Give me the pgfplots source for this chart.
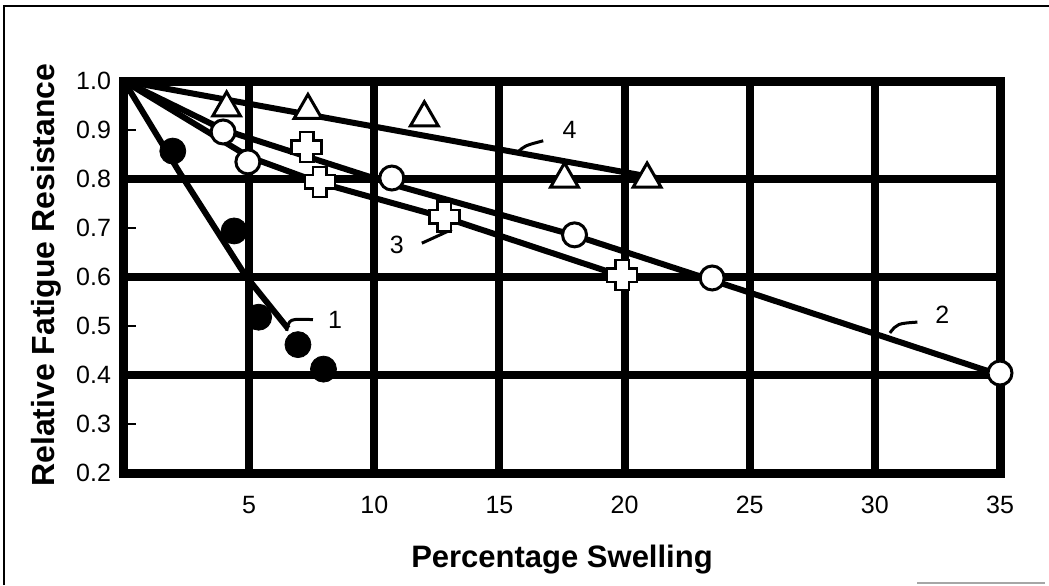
\documentclass[border=0pt]{standalone}
\usepackage{fontspec}
\setmainfont{Liberation Sans}
\usepackage{pgfplots}
\pgfplotsset{compat=1.18}

% white plus sign with a black outline
\pgfdeclareplotmark{fatplus}{%
  \pgfpathmoveto{\pgfqpoint{-3.4pt}{7.5pt}}
  \pgfpathlineto{\pgfqpoint{3.4pt}{7.5pt}}
  \pgfpathlineto{\pgfqpoint{3.4pt}{3.4pt}}
  \pgfpathlineto{\pgfqpoint{7.5pt}{3.4pt}}
  \pgfpathlineto{\pgfqpoint{7.5pt}{-3.4pt}}
  \pgfpathlineto{\pgfqpoint{3.4pt}{-3.4pt}}
  \pgfpathlineto{\pgfqpoint{3.4pt}{-7.5pt}}
  \pgfpathlineto{\pgfqpoint{-3.4pt}{-7.5pt}}
  \pgfpathlineto{\pgfqpoint{-3.4pt}{-3.4pt}}
  \pgfpathlineto{\pgfqpoint{-7.5pt}{-3.4pt}}
  \pgfpathlineto{\pgfqpoint{-7.5pt}{3.4pt}}
  \pgfpathlineto{\pgfqpoint{-3.4pt}{3.4pt}}
  \pgfpathclose
  \pgfusepathqfillstroke}

\begin{document}
\begin{tikzpicture}
\useasboundingbox (-62pt,-56pt) rectangle (462.5pt,236.5pt);
\begin{axis}[
    scale only axis,
    width=438pt, height=196pt,
    xmin=0, xmax=35, ymin=0.2, ymax=1.0,
    axis line style={line width=4.5pt},
    xtick={5,10,...,35}, xticklabels={5,10,15,20,25,30,35},
    ytick={0.2,0.4,0.6,0.8,1.0}, yticklabels={0.2,0.4,0.6,0.8,1.0},
    extra y ticks={0.3,0.5,0.7,0.9},
    extra y tick labels={0.3,0.5,0.7,0.9},
    extra y tick style={grid=none, major tick length=6pt, tick align=inside,
        tick style={line width=1.2pt, black}},
    major tick length=0pt,
    xtick pos=bottom, ytick pos=left,
    grid=major,
    major grid style={black, line width=4pt},
    tick label style={font=\fontsize{12.5}{14}\selectfont},
    xticklabel style={yshift=-8pt},
    yticklabel style={xshift=-3pt},
    xlabel={Percentage Swelling},
    ylabel={Relative Fatigue Resistance},
    label style={font=\bfseries\fontsize{15.5}{18}\selectfont},
    xlabel style={at={(axis description cs:0.5,0)}, anchor=base, yshift=-47pt},
    ylabel style={at={(axis description cs:-0.0788,0.505)}, anchor=base,
        font=\bfseries\fontsize{16}{18}\selectfont},
    clip=false,
]
% curves
\addplot[line width=3pt, black] coordinates {(0,1.0)(2.2,0.815)(4.85,0.603)(6.55,0.495)};
\addplot[line width=3pt, black] coordinates {(0,1.0)(4,0.9)(11,0.785)(18,0.685)(24,0.585)(35,0.40)};
\addplot[line width=3pt, black] coordinates {(0,1.0)(5,0.845)(7.84,0.792)(12.9,0.72)(20,0.60)};
\addplot[line width=3pt, black] coordinates {(0,1.0)(21.5,0.80)};

% leaders and curve numbers
\draw[line width=1.5pt] (axis cs:6.5,0.49) .. controls (axis cs:6.6,0.515) .. (axis cs:7.55,0.513);
\draw[line width=1.5pt] (axis cs:30.6,0.486) .. controls (axis cs:30.9,0.505) .. (axis cs:31.7,0.508);
\draw[line width=1.5pt] (axis cs:11.9,0.669) -- (axis cs:13.1,0.697);
\draw[line width=1.5pt] (axis cs:15.7,0.853) .. controls (axis cs:16.0,0.868) .. (axis cs:16.75,0.878);
\node[font=\fontsize{12.5}{14}\selectfont] at (axis cs:8.43,0.512) {1};
\node[font=\fontsize{12.5}{14}\selectfont] at (axis cs:32.7,0.523) {2};
\node[font=\fontsize{12.5}{14}\selectfont] at (axis cs:10.9,0.665) {3};
\node[font=\fontsize{12.5}{14}\selectfont] at (axis cs:17.8,0.90) {4};

% data points
\addplot[only marks, mark=*, mark size=6.5pt, mark options={fill=black, draw=black}]
    coordinates {(1.95,0.857)(4.4,0.694)(5.38,0.518)(6.95,0.462)(7.97,0.412)};
\addplot[only marks, mark=*, mark size=6pt, mark options={fill=white, draw=black, line width=1.5pt}]
    coordinates {(3.96,0.896)(4.95,0.835)(10.7,0.802)(18.0,0.686)(23.5,0.598)(35,0.404)};
\addplot[only marks, mark=fatplus, mark options={fill=white, draw=black, line width=1.3pt}]
    coordinates {(7.3,0.865)(7.83,0.794)(12.8,0.723)(19.9,0.604)};
\addplot[only marks, mark=triangle*, mark size=8pt, mark options={fill=white, draw=black, line width=1.5pt}]
    coordinates {(4.1,0.945)(7.35,0.94)(12.0,0.925)(17.6,0.80)(20.9,0.80)};
\end{axis}
% outer frame of the scanned figure
\draw[line width=0.8pt] (-60pt,-56pt) -- (-60pt,233.5pt) -- (462.5pt,233.5pt);
\draw[line width=0.8pt, black!35] (396.5pt,-55pt) -- (460.5pt,-55pt);
\end{tikzpicture}
\end{document}
